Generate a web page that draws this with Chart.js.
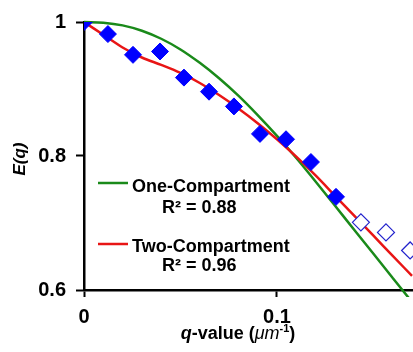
<!DOCTYPE html>
<html lang="en">
<head>
    <meta charset="UTF-8">
    <title>E(q) fit</title>
    <script src="https://cdn.jsdelivr.net/npm/chart.js"></script>
    <style>
        body { margin: 0; background: white; }
        #wrap { width: 413px; height: 352px; }
    </style>
</head>
<body>
<div id="wrap">
    <canvas id="eqChart" width="413" height="352"></canvas>
</div>
<script>
    // measured points (filled = used in fit, open = excluded)
    var qFilled = [0, 0.0124, 0.0254, 0.0394, 0.0518, 0.0648, 0.0777, 0.0912, 0.1047, 0.1176, 0.1306];
    var eFilled = [1.0, 0.982, 0.951, 0.956, 0.917, 0.896, 0.874, 0.833, 0.825, 0.791, 0.739];
    var qOpen = [0.1435, 0.1565, 0.169];
    var eOpen = [0.701, 0.686, 0.659];

    // fitted curves
    var qFit = [0, 0.01, 0.02, 0.03, 0.04, 0.05, 0.06, 0.07, 0.08, 0.09, 0.10, 0.11, 0.12, 0.13, 0.14, 0.15, 0.16, 0.17];
    var eOne = [1.0, 0.999, 0.995, 0.987, 0.975, 0.959, 0.939, 0.916, 0.890, 0.861, 0.830, 0.797, 0.762, 0.726, 0.690, 0.654, 0.618, 0.582];
    var eTwo = [1.0, 0.981, 0.962, 0.947, 0.936, 0.924, 0.909, 0.891, 0.871, 0.849, 0.825, 0.799, 0.771, 0.741, 0.711, 0.681, 0.651, 0.621];

    var xTicks = [0, 0.1];
    var yTicks = [0.6, 0.8, 1];

    function pts(xs, ys) {
        return xs.map(function (x, i) { return { x: x, y: ys[i] }; });
    }

    var FONT = "'Liberation Sans', Arial, sans-serif";

    // axis titles and the in-plot legend text
    var labelsPlugin = {
        id: 'labels',
        afterDraw: function (chart) {
            var ctx = chart.ctx;
            ctx.save();
            ctx.fillStyle = 'black';
            ctx.textBaseline = 'alphabetic';

            // y title
            ctx.save();
            ctx.translate(25, 159);
            ctx.rotate(-Math.PI / 2);
            ctx.textAlign = 'center';
            ctx.font = 'italic bold 17px ' + FONT;
            ctx.fillText('E(q)', 0, 0);
            ctx.restore();

            // x title with mixed styles
            var parts = [
                ['italic bold 18px ', 'q', 0],
                ['bold 18px ', '-value (', 0],
                ['italic 18px ', '\u03bcm', 0],
                ['bold 11px ', '-1', -7],
                ['bold 18px ', ')', 0]
            ];
            var total = 0;
            parts.forEach(function (p) { ctx.font = p[0] + FONT; total += ctx.measureText(p[1]).width; });
            var x = 238 - total / 2;
            ctx.textAlign = 'left';
            parts.forEach(function (p) {
                ctx.font = p[0] + FONT;
                ctx.fillText(p[1], x, 339 + p[2]);
                x += ctx.measureText(p[1]).width;
            });

            // legend
            var items = [
                { color: '#1a8a1a', y: 183, name: 'One-Compartment', r2: 'R\u00b2 = 0.88', nameY: 192, r2Y: 213 },
                { color: '#e81515', y: 244, name: 'Two-Compartment', r2: 'R\u00b2 = 0.96', nameY: 252, r2Y: 271 }
            ];
            items.forEach(function (it) {
                ctx.strokeStyle = it.color;
                ctx.lineWidth = 2.5;
                ctx.beginPath();
                ctx.moveTo(98, it.y);
                ctx.lineTo(128, it.y);
                ctx.stroke();
                ctx.font = 'bold 18px ' + FONT;
                ctx.textAlign = 'left';
                ctx.fillText(it.name, 132, it.nameY);
                ctx.fillText(it.r2, 162, it.r2Y);
            });
            ctx.restore();
        }
    };

    new Chart(document.getElementById('eqChart'), {
        type: 'scatter',
        data: {
            datasets: [
                {
                    label: 'data',
                    data: pts(qFilled, eFilled),
                    pointStyle: 'rectRot',
                    pointRadius: 8.5,
                    backgroundColor: '#0000ff',
                    borderColor: '#0000ff',
                    borderWidth: 1,
                    order: 0
                },
                {
                    label: 'excluded',
                    data: pts(qOpen, eOpen),
                    pointStyle: 'rectRot',
                    pointRadius: 8.5,
                    backgroundColor: 'white',
                    borderColor: '#2222cc',
                    borderWidth: 1.2,
                    order: 1
                },
                {
                    label: 'Two-Compartment',
                    type: 'line',
                    data: pts(qFit, eTwo),
                    borderColor: '#e81515',
                    borderWidth: 2.5,
                    pointRadius: 0,
                    cubicInterpolationMode: 'monotone',
                    fill: false,
                    order: 2
                },
                {
                    label: 'One-Compartment',
                    type: 'line',
                    data: pts(qFit, eOne),
                    borderColor: '#1a8a1a',
                    borderWidth: 2.5,
                    pointRadius: 0,
                    cubicInterpolationMode: 'monotone',
                    fill: false,
                    clip: { left: 0, top: 5, right: 0, bottom: 7 },
                    order: 3
                }
            ]
        },
        options: {
            responsive: false,
            animation: false,
            layout: { autoPadding: false, padding: { left: 0, right: 0, top: 20, bottom: 0 } },
            plugins: {
                legend: { display: false },
                tooltip: { enabled: false }
            },
            scales: {
                x: {
                    type: 'linear',
                    min: 0,
                    max: 0.1705,
                    afterFit: function (s) { s.height = 62; },
                    afterBuildTicks: function (s) { s.ticks = xTicks.map(function (v) { return { value: v }; }); },
                    border: { display: true, color: 'black', width: 2.5 },
                    grid: { drawOnChartArea: false, color: 'black', tickLength: 7, tickWidth: 2 },
                    ticks: {
                        color: 'black',
                        padding: 8,
                        maxRotation: 0,
                        callback: function (v) { return String(Math.round(v * 10) / 10); },
                        font: { family: FONT, size: 20, weight: 'bold' }
                    }
                },
                y: {
                    type: 'linear',
                    min: 0.6,
                    max: 1,
                    afterFit: function (s) { s.width = 84; },
                    afterBuildTicks: function (s) { s.ticks = yTicks.map(function (v) { return { value: v }; }); },
                    border: { display: true, color: 'black', width: 2.5 },
                    grid: { drawOnChartArea: false, color: 'black', tickLength: 8, tickWidth: 2 },
                    ticks: {
                        color: 'black',
                        padding: 10,
                        callback: function (v) { return String(Math.round(v * 10) / 10); },
                        font: { family: FONT, size: 20, weight: 'bold' }
                    }
                }
            }
        },
        plugins: [labelsPlugin]
    });
</script>
</body>
</html>
